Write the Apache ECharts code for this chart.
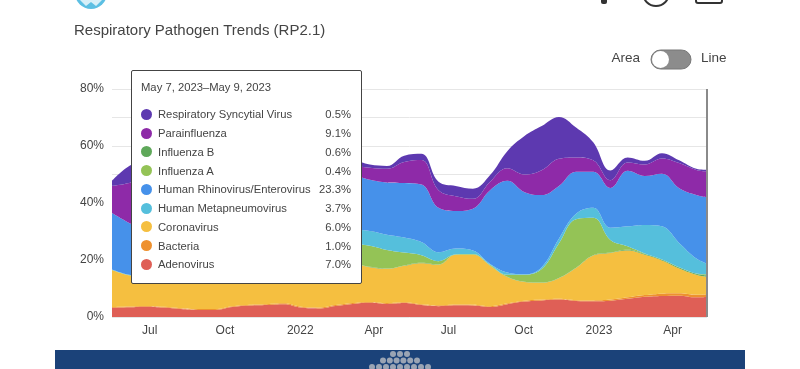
<!DOCTYPE html>
<html lang="en">
<style>
  html, body {
    margin: 0;
    padding: 0;
    background: #fff;
  }

  #container {
    width: 800px;
    height: 369px;
    overflow: hidden;
  }
</style>

<head>
  <meta charset="UTF-8">
  <script src="https://cdn.jsdelivr.net/npm/echarts@6/dist/echarts.min.js"></script>
</head>

<body>
  <div id="container"></div>
  <script>
    var dates = ['2021-05-16', '2021-06-06', '2021-06-27', '2021-07-18', '2021-08-08', '2021-08-29', '2021-09-19', '2021-10-10', '2021-10-31', '2021-11-21', '2021-12-12',
      '2022-01-02', '2022-01-23', '2022-02-13', '2022-03-06', '2022-03-27', '2022-04-17', '2022-05-08', '2022-05-29', '2022-06-19', '2022-07-10', '2022-07-31', '2022-08-21', '2022-09-11', '2022-10-02', '2022-10-23', '2022-11-13', '2022-12-04', '2022-12-25',
      '2023-01-15', '2023-02-05', '2023-02-26', '2023-03-19', '2023-04-09', '2023-04-30', '2023-05-13'];

    // stack order, bottom to top
    var adenovirus = [3.2, 3.4, 3.6, 3.3, 2.8, 2.5, 2.5, 3.5, 4, 4.2, 4.5, 3.3, 3, 3.9, 4.6, 5, 4.6, 4.9, 4.2, 3.8, 4.1, 4, 3.5, 4.5, 5.4, 5.8, 6.1, 5.6, 5.5, 5.7, 6.4, 7.1, 7.4, 7.5, 6.9, 7];
    var bacteria = [.3, .3, .3, .3, .3, .3, .3, .3, .3, .3, .3, .3, .3, .3, .3, .3, .3, .3, .3, .3, .3, .3, .3, .3, .3, .3, .3, .3, .3, .4, .5, .6, .8, .8, .9, 1];
    var coronavirus = [13, 10.9, 10.1, 9.9, 10.9, 11.7, 12.2, 12.2, 12.7, 13, 12.7, 13.4, 14.2, 13.8, 13.6, 12.2, 12, 12.8, 14.4, 14.2, 17.4, 17.5, 14.2, 9.2, 6.6, 5.9, 7.2, 11.3, 15.8, 16.4, 16.4, 14.1, 11.6, 8.7, 7, 6];
    var fluB = [0, 0, 0, 0, 0, 0, 0, 0, 0, .1, .1, .1, .1, .1, .1, .1, .1, .1, .1, .1, .1, .1, .1, .1, .1, .1, .1, .1, .1, .1, .3, .3, .3, .4, .4, .6];
    var fluA = [.1, .1, .1, .1, .1, .1, .1, .1, .2, .4, .9, 1.9, 2.9, 4.9, 6.9, 7.4, 6.5, 4.5, 2.7, 1.2, .1, .2, .2, .7, 2.4, 4.7, 12.1, 17, 13.1, 4.4, 1.2, .2, .1, .1, .1, .4];
    var metapneumovirus = [.1, .1, .1, .3, .4, .4, .6, .6, .8, 1, 2, 3, 3.5, 4, 5, 5.2, 5.4, 5.3, 4.6, 3.1, 2, 1.2, .3, .8, .2, .7, 1.7, 1.9, 3.5, 4.3, 7, 10, 11.6, 8.5, 5.2, 3.7];
    var rhinovirus = [19.8, 18.2, 15.8, 15.1, 16.5, 18, 19.3, 21.3, 24, 26, 25.5, 23, 21.5, 20, 19, 18, 18.3, 19.1, 20.2, 15.6, 13.2, 14.7, 25.9, 32.2, 28.8, 25.3, 18.5, 14.8, 12.7, 14, 19.5, 17.2, 18.5, 19.2, 22.3, 23.3];
    var parainfluenza = [9.5, 14, 19, 21, 20, 19, 17, 15, 11, 8, 7, 8, 7.5, 5, 3.5, 4.2, 4.8, 7.4, 8.6, 6.2, 5.2, 3.5, 3, 4.4, 6.2, 8.7, 9.5, 5, 4, 2.7, 2.9, 4, 5.3, 8.8, 8.8, 9.1];
    var rsv = [1.8, 6, 6, 6, 5.5, 5, 5, 4, 3, 3, 3, 2, 2, 2.5, 1.8, 1.1, 1, 2.2, 2.2, 3, 3.6, 3.5, 2.3, 6, 13.5, 15.5, 14.7, 10.5, 6.3, 3.4, 1.8, 1.3, 1.9, 1, .4, .5];

    var stackNames = ['Adenovirus', 'Bacteria', 'Coronavirus', 'Influenza B', 'Influenza A', 'Human Metapneumovirus', 'Human Rhinovirus/Enterovirus', 'Parainfluenza', 'Respiratory Syncytial Virus'];
    var stackValues = [adenovirus, bacteria, coronavirus, fluB, fluA, metapneumovirus, rhinovirus, parainfluenza, rsv];
    var stackColors = ['#df5f56', '#ee912f', '#f5bf40', '#5fa85a', '#94c356', '#55bfdc', '#4691ea', '#8e2aa8', '#5d39b0'];

    // tooltip keeps its own order
    var tipOrder = [8, 7, 3, 4, 6, 5, 2, 1, 0];
    var tipTitle = 'May 7, 2023–May 9, 2023';

    var tickDates = ['2021-07-01', '2021-10-01', '2022-01-01', '2022-04-01', '2022-07-01', '2022-10-01', '2023-01-01', '2023-04-01'];
    var tickLabels = ['Jul', 'Oct', '2022', 'Apr', 'Jul', 'Oct', '2023', 'Apr'];

    var font = '"Liberation Sans", Arial, sans-serif';
    var myChart = echarts.init(document.getElementById('container'));

    function toTime(d) {
      return new Date(d + 'T00:00:00').getTime();
    }

    var series = stackNames.map(function (name, k) {
      return {
        name: name,
        type: 'line',
        stack: 'total',
        smooth: 0.4,
        symbol: 'none',
        lineStyle: { width: 0 },
        itemStyle: { color: stackColors[k] },
        areaStyle: { color: stackColors[k], opacity: 1 },
        emphasis: { disabled: true },
        data: dates.map(function (d, i) { return [toTime(d), stackValues[k][i]]; })
      };
    });

    var tickTimes = tickDates.map(toTime);

    // header icons, cut off by the top of the picture, and the banner below
    var graphic = [
      { type: 'circle', shape: { cx: 91, cy: -7, r: 16 }, style: { fill: '#5cbfe3' } },
      { type: 'polygon', shape: { points: [[80, 0], [91, -6], [102, 0], [96, 6], [91, 2], [86, 6]] }, style: { fill: '#fff', opacity: 0.75 } },
      { type: 'rect', shape: { x: 601, y: -4, width: 6, height: 8, r: 2 }, style: { fill: '#333' } },
      { type: 'circle', shape: { cx: 656, cy: -7, r: 13 }, style: { fill: 'none', stroke: '#333', lineWidth: 2 } },
      { type: 'rect', shape: { x: 696, y: -20, width: 26, height: 23, r: 2 }, style: { fill: 'none', stroke: '#333', lineWidth: 2 } },
      { type: 'text', x: 640, y: 58, style: { text: 'Area', font: '13.5px ' + font, fill: '#444', align: 'right', verticalAlign: 'middle' } },
      { type: 'rect', shape: { x: 651, y: 50, width: 40, height: 19, r: 9.5 }, style: { fill: '#8c8c8c', stroke: '#777', lineWidth: 1 } },
      { type: 'circle', shape: { cx: 660.5, cy: 59.5, r: 8.5 }, style: { fill: '#fff' } },
      { type: 'text', x: 701, y: 58, style: { text: 'Line', font: '13.5px ' + font, fill: '#444', align: 'left', verticalAlign: 'middle' } },
      { type: 'rect', shape: { x: 55, y: 350, width: 690, height: 19 }, style: { fill: '#1b4279' } }
    ];
    [[354, 3, 393, 7], [360.5, 6, 383, 6.8], [367, 9, 372, 7]].forEach(function (row) {
      for (var n = 0; n < row[1]; n++) {
        graphic.push({ type: 'circle', shape: { cx: row[2] + n * row[3], cy: row[0], r: 3 }, style: { fill: '#9aa4b4' } });
      }
    });

    var option = {
      animation: false,
      textStyle: { fontFamily: font },
      title: {
        text: 'Respiratory Pathogen Trends (RP2.1)',
        left: 74,
        top: 23,
        padding: 0,
        textStyle: { fontSize: 15, fontWeight: 'normal', color: '#444', fontFamily: font }
      },
      grid: { left: 112, right: 93, top: 89, bottom: 52 },
      tooltip: {
        trigger: 'axis',
        triggerOn: 'none',
        alwaysShowContent: true,
        transitionDuration: 0,
        position: [131, 70],
        padding: 0,
        borderWidth: 0,
        backgroundColor: 'transparent',
        extraCssText: 'box-shadow:none;',
        axisPointer: { type: 'line', lineStyle: { color: '#8a8a8a', width: 2, type: 'solid' } },
        formatter: function () {
          var html = '<div style="box-sizing:border-box;width:231px;height:214px;background:#fff;border:1px solid #444;border-radius:2px;font:11.25px ' + font.replace(/"/g, "'") + ';color:#444;padding:0 10px 0 9px;">';
          html += '<div style="height:34px;line-height:33px;">' + tipTitle + '</div>';
          tipOrder.forEach(function (k) {
            var v = stackValues[k][dates.length - 1].toFixed(1) + '%';
            html += '<div style="display:flex;align-items:center;height:18.75px;white-space:nowrap;">' +
              '<span style="flex:none;width:11px;height:11px;border-radius:50%;margin-right:6px;background:' + stackColors[k] + '"></span>' +
              '<span style="flex:1">' + stackNames[k] + '</span><span>' + v + '</span></div>';
          });
          return html + '</div>';
        }
      },
      xAxis: {
        type: 'time',
        min: toTime(dates[0]),
        max: toTime(dates[dates.length - 1]),
        splitNumber: 8,
        axisLine: { show: false },
        axisTick: { show: false },
        splitLine: { show: false },
        axisLabel: {
          color: '#444',
          fontSize: 12,
          margin: 8,
          hideOverlap: false,
          formatter: function (val) {
            var at = tickTimes.indexOf(val);
            return at < 0 ? '' : tickLabels[at];
          }
        }
      },
      yAxis: {
        type: 'value',
        min: 0,
        max: 80,
        interval: 10,
        axisLine: { show: false },
        axisTick: { show: false },
        splitLine: { lineStyle: { color: '#e6e6e6', width: 1 } },
        axisLabel: {
          color: '#444',
          fontSize: 12,
          margin: 8,
          formatter: function (v) { return v % 20 === 0 ? v + '%' : ''; }
        }
      },
      graphic: graphic,
      series: series
    };

    myChart.setOption(option);
    myChart.dispatchAction({ type: 'showTip', seriesIndex: 0, dataIndex: dates.length - 1 });
  </script>
</body>

</html>
